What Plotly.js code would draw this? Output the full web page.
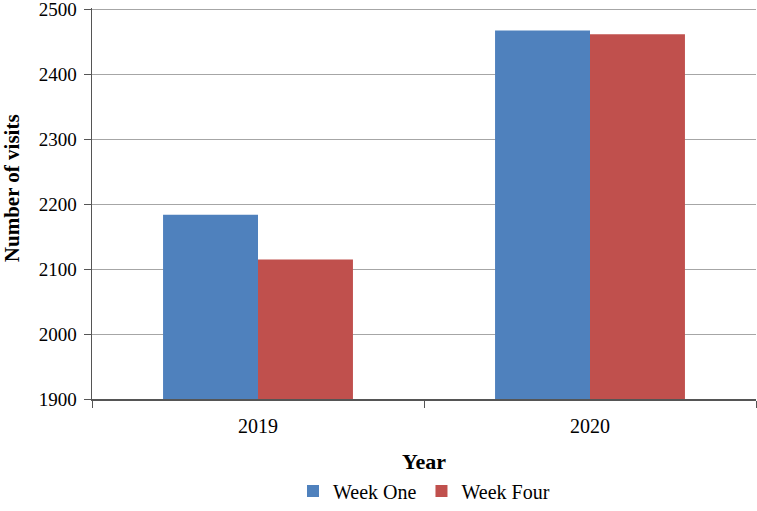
<!DOCTYPE html>
<html>
<head>
<meta charset="utf-8">
<script src="https://cdn.plot.ly/plotly-3.0.1.min.js"></script>
<style>html,body{margin:0;padding:0;background:#fff;}#chart{width:757px;height:511px;}</style>
</head>
<body>
<div id="chart"></div>
<script>
var years = ['2019', '2020'];
var weekOne = [2184, 2468];
var weekFour = [2115, 2462];
var yTicks = [1900, 2000, 2100, 2200, 2300, 2400, 2500];
var yTitle = 'Number of visits';
var xTitle = 'Year';

var FONT = 'Liberation Serif';

var data = [
  {type: 'bar', name: 'Week One', x: years, y: weekOne, marker: {color: '#4F81BD'}},
  {type: 'bar', name: 'Week Four', x: years, y: weekFour, marker: {color: '#C0504D'}}
];

var layout = {
  width: 757, height: 511,
  margin: {l: 92, r: 1, t: 8, b: 108},
  paper_bgcolor: '#fff', plot_bgcolor: '#fff',
  font: {family: FONT, size: 20, color: '#000'},
  barmode: 'group', bargap: 0.428, bargroupgap: 0,
  showlegend: true,
  legend: {orientation: 'h', x: 0.5, xanchor: 'center', y: -0.235, yanchor: 'middle',
           font: {family: FONT, size: 20, color: '#000'}, traceorder: 'normal'},
  xaxis: {
    type: 'category', tickson: 'boundaries', ticks: 'outside', ticklen: 7, tickcolor: '#555',
    showline: true, linecolor: '#555', linewidth: 1.5, showgrid: false,
    tickfont: {family: FONT, size: 20}, ticklabelstandoff: 8,
    title: {text: '<b>' + xTitle + '</b>', font: {family: FONT, size: 22}, standoff: 18},
    automargin: false
  },
  yaxis: {
    range: [1900, 2502.5], tickvals: yTicks, ticklabeloverflow: 'allow',
    ticks: 'outside', ticklen: 7, tickcolor: '#555',
    showline: true, linecolor: '#555', linewidth: 1.5, showgrid: true, gridcolor: '#a6a6a6', gridwidth: 1.2,
    zeroline: false, tickfont: {family: FONT, size: 19}, ticklabelstandoff: 3,
    automargin: false
  },
  annotations: [{
    text: '<b>' + yTitle + '</b>', xref: 'paper', yref: 'paper',
    x: -0.12, y: 0.54, xanchor: 'center', yanchor: 'middle',
    textangle: -90, showarrow: false, font: {family: FONT, size: 21, color: '#000'}
  }]
};

Plotly.newPlot('chart', data, layout, {displayModeBar: false, staticPlot: true});
</script>
</body>
</html>
